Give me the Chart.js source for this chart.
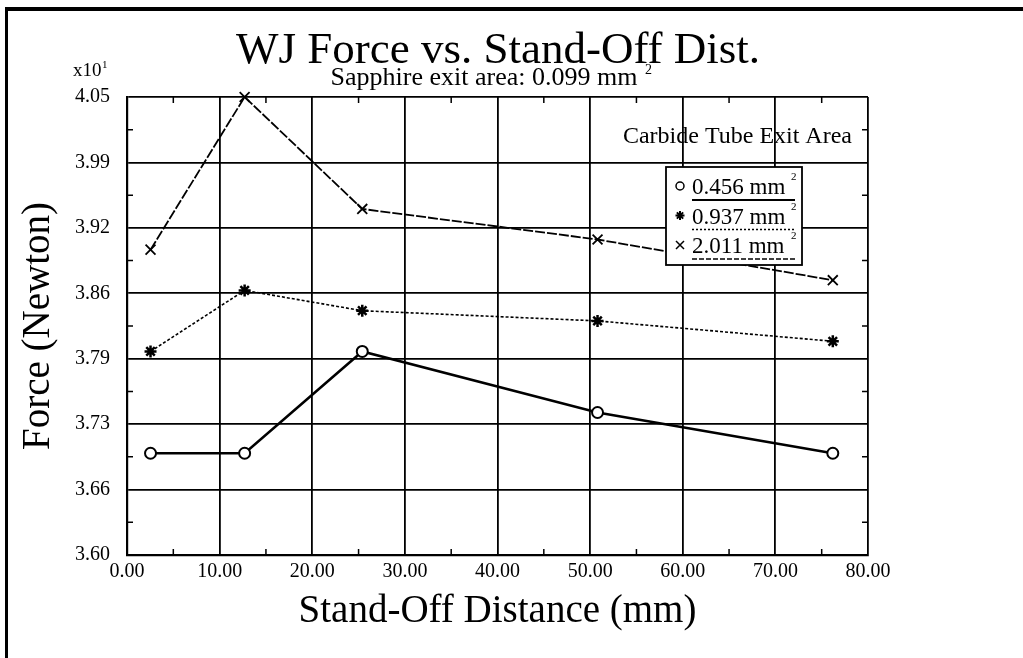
<!DOCTYPE html>
<html>
<head>
<meta charset="utf-8">
<script src="https://cdn.jsdelivr.net/npm/chart.js"></script>
<style>
  html, body { margin: 0; padding: 0; background: #fff; }
  #caja { width: 1023px; height: 658px; }
</style>
</head>
<body>
<div id="caja"><canvas id="grafico" width="1023" height="658"></canvas></div>
<script>
// Datos (fuerza en x10^1 N)
const distancias = [2.54, 12.7, 25.4, 50.8, 76.2];
const fuerza0456 = [3.70, 3.70, 3.80, 3.74, 3.70];
const fuerza0937 = [3.80, 3.86, 3.84, 3.83, 3.81];
const fuerza2011 = [3.90, 4.05, 3.94, 3.91, 3.87];
const nombres = ["0.456 mm", "0.937 mm", "2.011 mm"];
const yEtiquetas = ["3.60", "3.66", "3.73", "3.79", "3.86", "3.92", "3.99", "4.05"];
const yMin = 3.60, yMax = 4.05;
const xMin = 0, xMax = 80, xPaso = 10;

const serif = "'Liberation Serif', 'Times New Roman', serif";

function puntos(valores) {
  return distancias.map((d, i) => ({ x: d, y: valores[i] }));
}

// Marcadores de la leyenda (dibujados a mano)
function marcador(ctx, tipo, x, y) {
  ctx.save();
  ctx.strokeStyle = "#000";
  ctx.setLineDash([]);
  if (tipo === "circle") {
    ctx.lineWidth = 1.5;
    ctx.beginPath();
    ctx.arc(x, y, 4, 0, Math.PI * 2);
    ctx.fillStyle = "#fff";
    ctx.fill();
    ctx.stroke();
  } else if (tipo === "star") {
    ctx.lineWidth = 2;
    ctx.beginPath();
    const r = 4.5;
    ctx.moveTo(x - r, y); ctx.lineTo(x + r, y);
    ctx.moveTo(x, y - r); ctx.lineTo(x, y + r);
    ctx.moveTo(x - r * 0.7, y - r * 0.7); ctx.lineTo(x + r * 0.7, y + r * 0.7);
    ctx.moveTo(x - r * 0.7, y + r * 0.7); ctx.lineTo(x + r * 0.7, y - r * 0.7);
    ctx.stroke();
  } else {
    ctx.lineWidth = 1.5;
    const r = 4;
    ctx.beginPath();
    ctx.moveTo(x - r, y - r); ctx.lineTo(x + r, y + r);
    ctx.moveTo(x - r, y + r); ctx.lineTo(x + r, y - r);
    ctx.stroke();
  }
  ctx.restore();
}

const decoraciones = {
  id: "decoraciones",
  afterDraw(chart) {
    const ctx = chart.ctx;
    const area = chart.chartArea;
    const sx = chart.scales.x, sy = chart.scales.y;
    ctx.save();

    // marco exterior (arriba e izquierda)
    ctx.fillStyle = "#000";
    ctx.fillRect(5, 7, 1018, 4);
    ctx.fillRect(5, 7, 3, 651);

    // marcas menores
    ctx.strokeStyle = "#000";
    ctx.lineWidth = 1.5;
    ctx.beginPath();
    for (let v = xMin + xPaso / 2; v < xMax; v += xPaso) {
      const px = sx.getPixelForValue(v);
      ctx.moveTo(px, area.bottom); ctx.lineTo(px, area.bottom - 6);
      ctx.moveTo(px, area.top); ctx.lineTo(px, area.top + 6);
    }
    const paso = (yMax - yMin) / (yEtiquetas.length - 1);
    for (let i = 0; i < yEtiquetas.length - 1; i++) {
      const py = sy.getPixelForValue(yMin + (i + 0.5) * paso);
      ctx.moveTo(area.left, py); ctx.lineTo(area.left + 6, py);
      ctx.moveTo(area.right, py); ctx.lineTo(area.right - 6, py);
    }
    ctx.stroke();

    // títulos
    ctx.fillStyle = "#000";
    ctx.textBaseline = "alphabetic";
    ctx.textAlign = "center";
    ctx.font = "45px " + serif;
    ctx.fillText("WJ Force vs. Stand-Off Dist.", 498, 63);
    ctx.font = "26px " + serif;
    ctx.fillText("Sapphire exit area: 0.099 mm", 484, 85);
    ctx.textAlign = "left";
    ctx.font = "14px " + serif;
    ctx.fillText("2", 645, 74);

    // factor de escala del eje y
    ctx.font = "19px " + serif;
    ctx.fillText("x10", 73, 76);
    ctx.font = "11px " + serif;
    ctx.fillText("1", 102, 68);

    // encabezado de la leyenda
    ctx.textAlign = "right";
    ctx.font = "24px " + serif;
    ctx.fillText("Carbide Tube Exit Area", 852, 143);

    // caja de leyenda
    const bx = 666, by = 167, bw = 136, bh = 98;
    ctx.fillStyle = "#fff";
    ctx.fillRect(bx, by, bw, bh);
    ctx.lineWidth = 1.8;
    ctx.strokeRect(bx, by, bw, bh);

    const tipos = ["circle", "star", "crossRot"];
    const guiones = [[], [2, 2], [5, 2]];
    const grosores = [2.2, 1.5, 1.5];
    nombres.forEach((n, i) => {
      const cy = 186 + i * 29.5;
      marcador(ctx, tipos[i], 680, cy);
      ctx.fillStyle = "#000";
      ctx.textAlign = "left";
      ctx.font = "23px " + serif;
      ctx.fillText(n, 692, cy + 8);
      ctx.font = "11px " + serif;
      ctx.fillText("2", 791, cy - 6);
      ctx.beginPath();
      ctx.setLineDash(guiones[i]);
      ctx.lineWidth = grosores[i];
      ctx.moveTo(692, cy + 14);
      ctx.lineTo(795, cy + 14);
      ctx.stroke();
      ctx.setLineDash([]);
    });

    ctx.restore();
  }
};

const ctx = document.getElementById("grafico").getContext("2d");
new Chart(ctx, {
  type: "scatter",
  data: {
    datasets: [
      {
        label: nombres[0],
        data: puntos(fuerza0456),
        showLine: true,
        borderColor: "#000",
        borderWidth: 2.5,
        pointStyle: "circle",
        pointRadius: 5.5,
        pointBorderWidth: 2,
        pointBackgroundColor: "#fff",
        pointBorderColor: "#000",
        clip: false,
      },
      {
        label: nombres[1],
        data: puntos(fuerza0937),
        showLine: true,
        borderColor: "#000",
        borderWidth: 1.6,
        borderDash: [3, 2],
        pointStyle: "star",
        pointRadius: 6,
        pointBorderWidth: 2.5,
        pointBackgroundColor: "#000",
        pointBorderColor: "#000",
        clip: false,
      },
      {
        label: nombres[2],
        data: puntos(fuerza2011),
        showLine: true,
        borderColor: "#000",
        borderWidth: 1.8,
        borderDash: [10, 2],
        pointStyle: "crossRot",
        pointRadius: 7,
        pointBorderWidth: 1.8,
        pointBackgroundColor: "#000",
        pointBorderColor: "#000",
        clip: false,
      },
    ],
  },
  options: {
    responsive: false,
    animation: false,
    devicePixelRatio: 1,
    layout: { padding: { top: 97, right: 155, bottom: 0, left: 0 } },
    plugins: {
      legend: { display: false },
      tooltip: { enabled: false },
    },
    scales: {
      x: {
        type: "linear",
        min: xMin,
        max: xMax,
        afterFit: (s) => { s.height = 103; },
        ticks: {
          stepSize: xPaso,
          color: "#000",
          padding: 5,
          font: { family: serif, size: 20 },
          callback: (v) => Number(v).toFixed(2),
        },
        grid: { color: "#000", lineWidth: 1.8, drawTicks: false },
        border: { color: "#000", width: 2.2 },
        title: {
          display: true,
          text: "Stand-Off Distance (mm)",
          color: "#000",
          font: { family: serif, size: 39, lineHeight: 1.2 },
          padding: { top: 0, bottom: 23 },
        },
      },
      y: {
        min: yMin,
        max: yMax,
        afterFit: (s) => { s.width = 127; },
        afterBuildTicks: (s) => {
          const paso = (yMax - yMin) / (yEtiquetas.length - 1);
          s.ticks = yEtiquetas.map((_, i) => ({ value: yMin + i * paso }));
        },
        ticks: {
          color: "#000",
          padding: 17,
          font: { family: serif, size: 20 },
          callback: (v, i) => yEtiquetas[i],
        },
        grid: { color: "#000", lineWidth: 1.8, drawTicks: false },
        border: { color: "#000", width: 2.2 },
        title: {
          display: true,
          text: "Force (Newton)",
          color: "#000",
          font: { family: serif, size: 39, lineHeight: 1.2 },
          padding: { top: 15, bottom: 0 },
        },
      },
    },
  },
  plugins: [decoraciones],
});
</script>
</body>
</html>
